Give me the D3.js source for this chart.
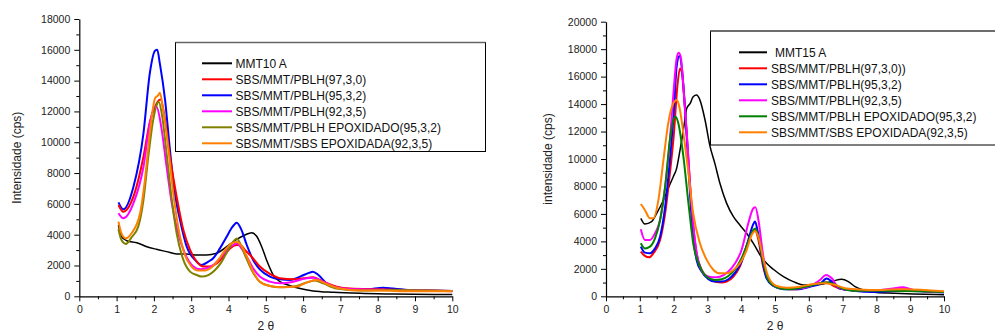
<!DOCTYPE html>
<html><head><meta charset="utf-8">
<script src="https://cdn.jsdelivr.net/npm/d3@7"></script>
<style>
html,body{margin:0;padding:0;background:#fff;}
svg{display:block;font-family:"Liberation Sans",Arial,sans-serif;}
</style></head><body>
<svg id="c" width="995" height="334"></svg>
<script>
// ---------- DATA: left chart (MMT10 A) ----------
const leftLabels = ["MMT10 A","SBS/MMT/PBLH(97,3,0)","SBS/MMT/PBLH(95,3,2)","SBS/MMT/PBLH(92,3,5)","SBS/MMT/PBLH EPOXIDADO(95,3,2)","SBS/MMT/SBS EPOXIDADA(92,3,5)"];
const leftColors = ["#000000","#ff0000","#0000ff","#ff00ff","#808000","#ff8000"];
const L_mmt = [[1.05,4630],[1.13,3870],[1.27,3610],[1.54,3480],[1.81,3220],[2.07,3050],[2.34,2900],[2.61,2750],[2.88,2750],[3.15,2680],[3.41,2680],[3.68,2790],[3.95,3220],[4.22,3700],[4.44,3980],[4.62,4130],[4.75,3910],[4.89,3220],[5.02,2360],[5.20,1380],[5.38,950],[5.65,690],[5.92,500],[6.27,350],[6.81,260],[7.52,190],[8.42,150],[10,110]];
const L_970 = [[1.05,5930],[1.18,5490],[1.45,6470],[1.72,9060],[1.89,11300],[2.03,12300],[2.14,12740],[2.18,12780],[2.30,11440],[2.43,9060],[2.61,6470],[2.79,4300],[2.97,3010],[3.15,2250],[3.32,1930],[3.50,1930],[3.68,2140],[3.86,2570],[4.04,3110],[4.22,3330],[4.31,3330],[4.44,3010],[4.62,2570],[4.84,1930],[5.11,1450],[5.38,1170],[5.74,1100],[6.01,1170],[6.27,1230],[6.54,950],[6.90,630],[7.26,500],[7.97,450],[8.87,410],[10,320]];
const L_952 = [[1.05,6100],[1.18,5650],[1.45,7100],[1.72,10580],[1.89,14470],[2.03,15940],[2.09,16000],[2.16,15100],[2.30,12740],[2.43,9500],[2.56,6680],[2.70,4950],[2.88,3220],[3.10,2360],[3.28,2030],[3.46,2250],[3.59,2470],[3.77,3110],[3.95,3870],[4.11,4520],[4.22,4780],[4.35,4300],[4.49,3330],[4.66,2360],[4.84,1750],[5.11,1280],[5.38,1100],[5.65,1060],[5.92,1280],[6.18,1540],[6.26,1600],[6.41,1380],[6.63,840],[6.90,580],[7.26,450],[7.70,450],[8.15,560],[8.42,500],[8.87,410],[9.31,370],[10,350]];
const L_925 = [[1.05,5390],[1.18,5060],[1.45,6030],[1.72,8410],[1.89,11230],[2.03,12310],[2.07,12300],[2.21,10790],[2.34,8410],[2.48,6030],[2.65,4090],[2.83,2790],[3.06,1930],[3.24,1750],[3.41,1820],[3.59,2030],[3.77,2470],[3.95,3010],[4.13,3330],[4.22,3440],[4.35,3110],[4.49,2570],[4.66,1820],[4.84,1280],[5.11,950],[5.38,840],[5.74,950],[6.09,1170],[6.27,1210],[6.54,950],[6.90,580],[7.52,450],[8.42,410],[10,350]];
const L_epoxPBLH = [[1.05,4350],[1.13,3650],[1.25,3400],[1.40,3830],[1.58,4520],[1.72,6250],[1.85,9060],[1.98,11440],[2.09,12520],[2.13,12630],[2.21,11870],[2.34,9280],[2.48,6250],[2.61,4090],[2.79,2360],[2.97,1600],[3.15,1380],[3.28,1280],[3.46,1380],[3.64,1710],[3.82,2250],[3.99,3010],[4.13,3550],[4.22,3760],[4.31,3440],[4.44,2680],[4.62,1710],[4.84,950],[5.11,670],[5.38,580],[5.74,630],[6.09,890],[6.32,1020],[6.54,840],[6.90,500],[7.52,370],[8.42,410],[10,350]];
const L_epoxSBS = [[1.05,4850],[1.13,4090],[1.25,3760],[1.40,4090],[1.63,5390],[1.76,7550],[1.89,10580],[2.03,12850],[2.12,13060],[2.16,13220],[2.25,12090],[2.39,9500],[2.52,6680],[2.65,4520],[2.83,2680],[3.01,1930],[3.19,1670],[3.37,1670],[3.55,1880],[3.73,2360],[3.91,3010],[4.08,3440],[4.22,3530],[4.35,3270],[4.49,2570],[4.66,1600],[4.84,950],[5.11,670],[5.47,580],[5.83,630],[6.09,890],[6.36,1060],[6.63,800],[6.99,500],[7.52,370],[8.06,370],[8.87,320],[10,320]];
const leftSeries = [L_mmt, L_970, L_952, L_925, L_epoxPBLH, L_epoxSBS];

// ---------- DATA: right chart (MMT15 A) ----------
const rightLabels = ["MMT15 A","SBS/MMT/PBLH(97,3,0))","SBS/MMT/PBLH(95,3,2)","SBS/MMT/PBLH(92,3,5)","SBS/MMT/PBLH EPOXIDADO(95,3,2)","SBS/MMT/SBS EPOXIDADA(92,3,5)"];
const rightColors = ["#000000","#ff0000","#0000ff","#ff00ff","#008000","#ff8000"];
const R_mmt = [[1.03,5680],[1.15,5270],[1.35,5440],[1.50,6040],[1.70,7010],[1.84,7860],[1.99,8710],[2.09,9320],[2.19,10650],[2.29,12110],[2.39,13690],[2.49,14050],[2.58,14540],[2.68,14660],[2.78,14290],[2.93,12840],[3.08,10900],[3.22,9680],[3.37,8230],[3.57,6770],[3.77,5800],[3.96,5190],[4.16,4590],[4.36,3860],[4.56,3010],[4.75,2400],[4.95,1970],[5.25,1430],[5.54,1070],[5.84,830],[6.13,830],[6.43,900],[6.73,1120],[6.97,1240],[7.17,1070],[7.37,700],[7.61,460],[8.01,270],[8.50,220],[9.09,170],[10,120]];
const R_970 = [[1.03,3250],[1.15,2940],[1.28,2840],[1.40,3130],[1.60,4100],[1.75,6040],[1.89,8960],[2.01,11870],[2.11,15270],[2.19,16600],[2.24,16360],[2.34,13570],[2.44,9930],[2.53,6530],[2.68,3130],[2.83,1920],[3.03,1310],[3.22,1070],[3.42,1000],[3.57,1070],[3.77,1430],[3.96,2160],[4.16,3620],[4.31,4590],[4.41,4830],[4.51,4100],[4.65,2160],[4.80,1190],[5.05,700],[5.35,530],[5.64,510],[5.94,700],[6.23,900],[6.53,1000],[6.78,700],[7.02,510],[7.51,460],[8.11,410],[8.80,510],[9.29,410],[10,320]];
const R_952 = [[1.03,3620],[1.15,3180],[1.30,3130],[1.45,3490],[1.60,4340],[1.75,6530],[1.89,9930],[2.01,13570],[2.09,16720],[2.17,17500],[2.24,16720],[2.34,13570],[2.44,9440],[2.53,5800],[2.68,2650],[2.83,1800],[3.03,1240],[3.22,1070],[3.42,1070],[3.62,1240],[3.82,1720],[4.01,2520],[4.21,4100],[4.36,5270],[4.41,5440],[4.48,4830],[4.61,2890],[4.75,1310],[4.95,750],[5.25,510],[5.64,510],[6.04,700],[6.33,900],[6.53,1290],[6.68,1070],[6.92,560],[7.32,410],[7.91,320],[8.80,410],[10,270]];
const R_925 = [[1.03,4880],[1.15,4100],[1.30,4100],[1.45,4590],[1.60,5560],[1.75,7980],[1.89,11380],[2.01,15270],[2.09,17330],[2.15,17740],[2.21,17450],[2.29,15270],[2.39,11870],[2.49,7980],[2.63,4100],[2.78,2160],[2.98,1480],[3.18,1380],[3.37,1430],[3.62,1800],[3.82,2400],[4.01,3370],[4.21,5320],[4.36,6410],[4.42,6480],[4.51,5560],[4.64,3130],[4.77,1430],[4.95,830],[5.25,560],[5.64,560],[6.04,750],[6.33,1190],[6.51,1550],[6.68,1310],[6.87,660],[7.22,460],[7.81,410],[8.30,510],[8.80,660],[9.09,460],[9.59,340],[10,320]];
const R_epoxPBLH = [[1.03,3860],[1.15,3490],[1.30,3620],[1.45,4220],[1.60,5560],[1.75,7980],[1.89,11380],[2.01,12960],[2.06,13080],[2.14,12600],[2.29,10170],[2.44,6770],[2.58,3860],[2.78,2160],[2.98,1430],[3.22,1190],[3.42,1240],[3.62,1480],[3.82,1970],[4.01,2770],[4.21,3980],[4.36,4830],[4.42,4930],[4.51,4340],[4.64,2650],[4.80,1190],[5.05,660],[5.35,510],[5.74,610],[6.13,830],[6.48,1000],[6.73,900],[6.97,580],[7.32,410],[8.30,410],[10,320]];
const R_epoxSBS = [[1.03,6720],[1.15,6290],[1.30,5680],[1.40,5680],[1.55,7010],[1.70,9930],[1.84,12600],[1.99,14050],[2.09,14290],[2.17,13810],[2.29,11870],[2.44,8960],[2.58,6040],[2.78,3860],[2.98,2650],[3.18,1920],[3.37,1670],[3.57,1670],[3.77,1920],[3.96,2400],[4.16,3370],[4.31,4470],[4.41,4760],[4.51,4300],[4.65,2770],[4.80,1430],[5.05,750],[5.35,630],[5.74,700],[6.13,900],[6.48,950],[6.78,830],[7.12,560],[7.81,460],[8.80,510],[10,360]];
const rightSeries = [R_mmt, R_970, R_952, R_925, R_epoxPBLH, R_epoxSBS];

// ---------- TICKS / TITLES ----------
const xTicks = [0,1,2,3,4,5,6,7,8,9,10];
const leftYTicks = [0,2000,4000,6000,8000,10000,12000,14000,16000,18000];
const rightYTicks = [0,2000,4000,6000,8000,10000,12000,14000,16000,18000,20000];
const leftYTitle = "Intensidade (cps)";
const rightYTitle = "intensidade (cps)";
const xTitle = "2 \u03b8";

const svg = d3.select("#c");

function panel(cfg){
  const g = svg.append("g");
  const x = d3.scaleLinear().domain([0,10]).range([cfg.x0,cfg.x1]);
  const y = d3.scaleLinear().domain([0,cfg.ymax]).range([cfg.y0,cfg.y1]);

  // minor ticks
  const xMinor = d3.range(0.5,10,1);
  const yMinor = d3.range(1000,cfg.ymax,2000);
  const xa = g.append("g").attr("transform",`translate(0,${cfg.y0})`)
    .call(d3.axisBottom(x).tickValues(xMinor).tickSize(3).tickFormat(""));
  const ya = g.append("g").attr("transform",`translate(${cfg.x0},0)`)
    .call(d3.axisLeft(y).tickValues(yMinor).tickSize(3).tickFormat(""));
  [xa,ya].forEach(a=>{a.select(".domain").remove(); a.selectAll("line").attr("stroke","#000");});

  const xAxis = g.append("g").attr("transform",`translate(0,${cfg.y0})`)
    .call(d3.axisBottom(x).tickValues(xTicks).tickSize(5).tickPadding(4).tickSizeOuter(0).tickFormat(d3.format("d")));
  const yAxis = g.append("g").attr("transform",`translate(${cfg.x0},0)`)
    .call(d3.axisLeft(y).tickValues(cfg.yTicks).tickSize(5).tickPadding(4).tickSizeOuter(0).tickFormat(d3.format("d")));
  [xAxis,yAxis].forEach(a=>{
    a.select(".domain").attr("stroke","#000").attr("stroke-width",1.2);
    a.selectAll("line").attr("stroke","#000");
    a.selectAll("text").attr("fill","#222").style("font-size","10.5px").style("font-family","'Liberation Sans',Arial,sans-serif");
  });

  // curves
  const line = d3.line().x(d=>x(d[0])).y(d=>y(d[1])).curve(d3.curveMonotoneX);
  cfg.drawOrder.forEach(i=>{
    g.append("path").datum(cfg.series[i]).attr("d",line)
      .attr("fill","none").attr("stroke",cfg.colors[i])
      .attr("stroke-width", i===0?1.5:2).attr("stroke-linejoin","round");
  });

  // axis titles
  g.append("text").attr("transform",`translate(${cfg.yTitleX},${(cfg.y0+cfg.y1)/2}) rotate(-90)`)
    .attr("text-anchor","middle").attr("fill","#222").style("font-size","12px").text(cfg.yTitle);
  g.append("text").attr("x",(cfg.x0+cfg.x1)/2).attr("y",330)
    .attr("text-anchor","middle").attr("fill","#222").style("font-size","12px").text(xTitle);

  // legend
  const lg = g.append("g");
  lg.append("rect").attr("x",cfg.lx).attr("y",cfg.ly).attr("width",cfg.lw).attr("height",cfg.lh)
    .attr("fill","#fff").attr("stroke","#000").attr("stroke-width",1);
  lg.append("line").attr("x1",cfg.lx).attr("x2",cfg.lx+cfg.lw).attr("y1",cfg.ly).attr("y2",cfg.ly)
    .attr("stroke","#666").attr("stroke-width",1.5);
  cfg.labels.forEach((lab,i)=>{
    const yy = cfg.ly + cfg.lrow0 + i*16;
    lg.append("line").attr("x1",cfg.lline0).attr("x2",cfg.lline1).attr("y1",yy).attr("y2",yy)
      .attr("stroke",cfg.colors[i]).attr("stroke-width",2);
    lg.append("text").attr("x",cfg.ltext + (i===0?cfg.firstExtra:0)).attr("y",yy).attr("dy","0.36em")
      .attr("fill","#111").style("font-size","12px").text(lab);
  });
}

panel({x0:79.3,x1:452.3,y0:296.3,y1:19,ymax:18000,yTicks:leftYTicks,series:leftSeries,colors:leftColors,labels:leftLabels,
  drawOrder:[0,2,1,3,4,5], yTitle:leftYTitle, yTitleX:21,
  lx:175.5,ly:42.5,lw:310,lh:109,lrow0:20.8,lline0:202,lline1:232,ltext:235.5,firstExtra:0});
panel({x0:606,x1:944,y0:296.3,y1:21.7,ymax:20000,yTicks:rightYTicks,series:rightSeries,colors:rightColors,labels:rightLabels,
  drawOrder:[0,1,2,3,4,5], yTitle:rightYTitle, yTitleX:552,
  lx:710.5,ly:31,lw:300,lh:114,lrow0:21.3,lline0:739,lline1:767,ltext:771,firstExtra:4});
</script>
</body></html>
